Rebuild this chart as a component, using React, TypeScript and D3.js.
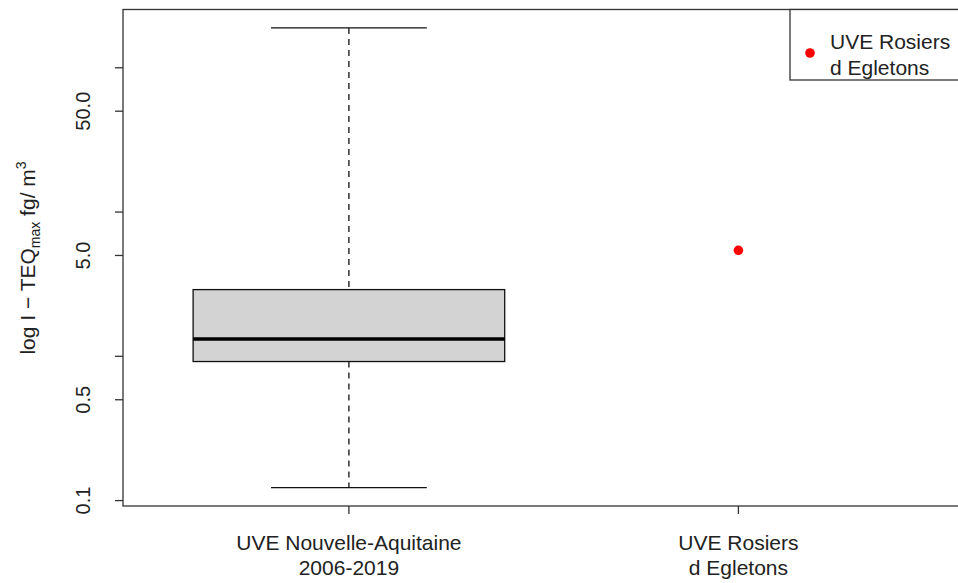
import React from "react";
import * as d3 from "d3";

// ---- data ----
const categories = ["UVE Nouvelle-Aquitaine\n2006-2019", "UVE Rosiers\nd Egletons"];
// box stats for the first group: [lower whisker, Q1, median, Q3, upper whisker]
const boxStats = [0.123, 0.92, 1.32, 2.9, 189];
// single observation for the second group
const pointValues = [5.43];
const yTickValues = [0.1, 0.5, 1, 5, 10, 50, 100];
const yTickLabels = ["0.1", "0.5", "", "5.0", "", "50.0", ""];
const legendLabel = ["UVE Rosiers", "d Egletons"];

const W = 958;
const H = 583;
const left = 123;
const top = 9.5;
const bottom = 506;
const unit = 389.5; // px per category unit

export default function App() {
  const x = d3.scaleLinear().domain([0.42, 2.58]).range([left, left + 2.16 * unit]);
  const lo = Math.log10(boxStats[0]);
  const hi = Math.log10(boxStats[4]);
  const pad = (hi - lo) * 0.04;
  const y = d3
    .scaleLog()
    .domain([Math.pow(10, lo - pad), Math.pow(10, hi + pad)])
    .range([bottom, top]);

  const font = "'Liberation Sans', Arial, sans-serif";
  const ink = "#111";
  const cx1 = x(1);
  const bw = x(1.4) - x(1);
  const cw = x(1.2) - x(1);
  const [wl, q1, med, q3, wh] = boxStats;

  return (
    <svg
      width={W}
      height={H}
      style={{ position: "absolute", left: 0, top: 0, display: "block", background: "#fff" }}
      fontFamily={font}
    >
      {/* plot frame */}
      <rect x={left} y={top} width={x(2.58) - left} height={bottom - top} fill="none" stroke="#333" strokeWidth={1.3} />

      {/* box plot for group 1 */}
      <line x1={cx1} x2={cx1} y1={y(wh)} y2={y(q3)} stroke={ink} strokeWidth={1.3} strokeDasharray="6 5" />
      <line x1={cx1} x2={cx1} y1={y(q1)} y2={y(wl)} stroke={ink} strokeWidth={1.3} strokeDasharray="6 5" />
      <line x1={cx1 - cw} x2={cx1 + cw} y1={y(wh)} y2={y(wh)} stroke={ink} strokeWidth={1.3} />
      <line x1={cx1 - cw} x2={cx1 + cw} y1={y(wl)} y2={y(wl)} stroke={ink} strokeWidth={1.3} />
      <rect x={cx1 - bw} y={y(q3)} width={2 * bw} height={y(q1) - y(q3)} fill="#d3d3d3" stroke={ink} strokeWidth={1.3} />
      <line x1={cx1 - bw} x2={cx1 + bw} y1={y(med)} y2={y(med)} stroke="#000" strokeWidth={3.5} />

      {/* group 2 point */}
      {pointValues.map((v, i) => (
        <circle key={i} cx={x(2)} cy={y(v)} r={4.8} fill="#ff0000" />
      ))}

      {/* y axis */}
      {yTickValues.map((t, i) => (
        <g key={t}>
          <line x1={left - 8} x2={left} y1={y(t)} y2={y(t)} stroke="#333" strokeWidth={1.3} />
          {yTickLabels[i] && (
            <text
              transform={`translate(${90},${y(t)}) rotate(-90)`}
              textAnchor="middle"
              fontSize={20}
              fill="#222"
            >
              {yTickLabels[i]}
            </text>
          )}
        </g>
      ))}

      {/* x axis ticks and labels */}
      {categories.map((c, i) => {
        const px = x(i + 1);
        const lines = c.split("\n");
        return (
          <g key={c}>
            <line x1={px} x2={px} y1={bottom} y2={bottom + 8} stroke="#333" strokeWidth={1.3} />
            {lines.map((ln, j) => (
              <text key={j} x={px} y={550 + j * 25} textAnchor="middle" fontSize={21} fill="#222">
                {ln}
              </text>
            ))}
          </g>
        );
      })}

      {/* y axis title */}
      <text transform={`translate(35,258) rotate(-90)`} textAnchor="middle" fontSize={21} fill="#222">
        log I − TEQ
        <tspan dy={5} fontSize={14}>max</tspan>
        <tspan dy={-5} fontSize={21}> fg/ m</tspan>
        <tspan dy={-9} fontSize={14}>3</tspan>
      </text>

      {/* legend */}
      <rect x={790} y={top} width={200} height={80 - top} fill="#fff" stroke="#333" strokeWidth={1.3} />
      <circle cx={810} cy={53} r={4.8} fill="#ff0000" />
      {legendLabel.map((l, j) => (
        <text key={j} x={830} y={49 + j * 26} fontSize={21} fill="#222">
          {l}
        </text>
      ))}
    </svg>
  );
}
